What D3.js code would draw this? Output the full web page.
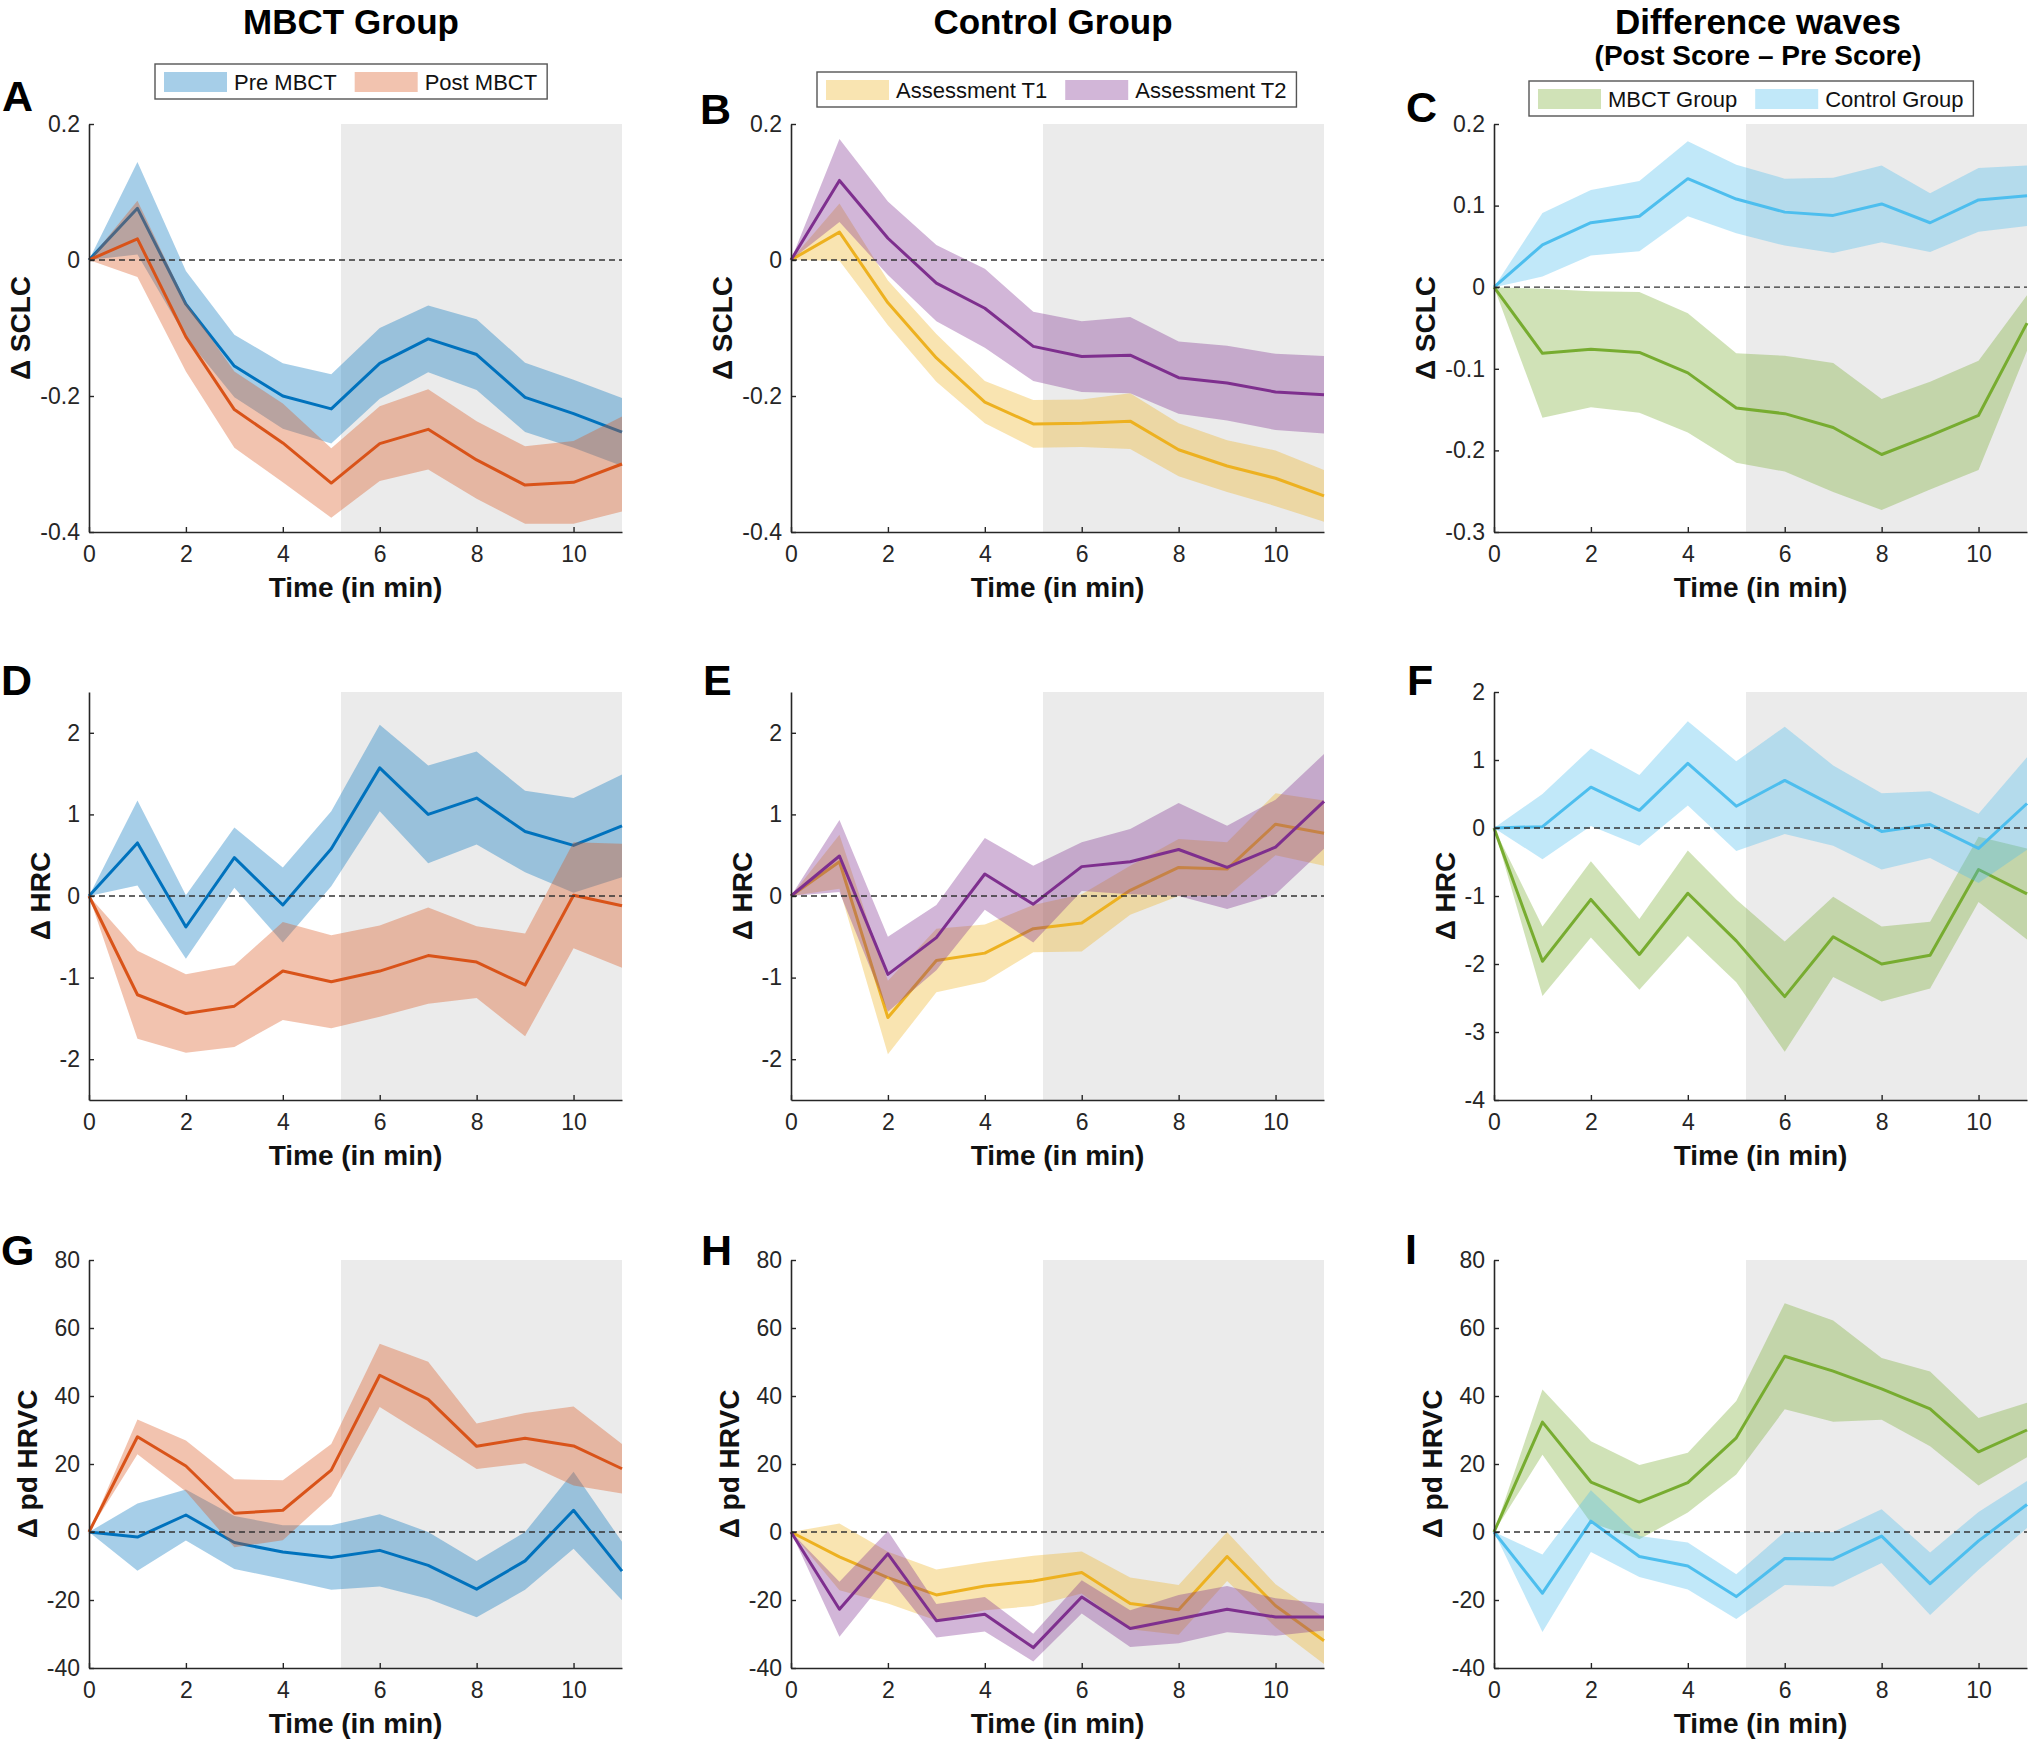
<!DOCTYPE html>
<html>
<head>
<meta charset="utf-8">
<script src="https://cdn.jsdelivr.net/npm/d3@7"></script>
<style>
	html, body { margin: 0; padding: 0; background: #fff; }
	svg { display: block; font-family: 'Liberation Sans', Arial, Helvetica, sans-serif; }
</style>
</head>
<body>
<svg id="chart" width="2030" height="1743"></svg>
<script>
// time axis (minutes)
var timePoints = [0, 1, 2, 3, 4, 5, 6, 7, 8, 9, 10, 11];

// A - SCLC, MBCT group
var sclcPreMean  = [0, 0.076, -0.065, -0.156, -0.200, -0.219, -0.152, -0.116, -0.139, -0.202, -0.226, -0.253];
var sclcPreSem   = [0, 0.068, 0.049, 0.046, 0.048, 0.051, 0.052, 0.049, 0.052, 0.051, 0.050, 0.050];
var sclcPostMean = [0, 0.031, -0.113, -0.220, -0.269, -0.328, -0.270, -0.249, -0.294, -0.331, -0.327, -0.300];
var sclcPostSem  = [0, 0.056, 0.051, 0.056, 0.058, 0.051, 0.055, 0.059, 0.057, 0.057, 0.061, 0.070];

// B - SCLC, control group
var sclcT1Mean = [0, 0.041, -0.063, -0.144, -0.209, -0.241, -0.240, -0.237, -0.279, -0.303, -0.321, -0.347];
var sclcT1Sem  = [0, 0.042, 0.033, 0.035, 0.031, 0.035, 0.035, 0.041, 0.039, 0.038, 0.041, 0.038];
var sclcT2Mean = [0, 0.117, 0.032, -0.034, -0.071, -0.127, -0.142, -0.140, -0.173, -0.181, -0.194, -0.198];
var sclcT2Sem  = [0, 0.061, 0.054, 0.056, 0.058, 0.051, 0.052, 0.056, 0.053, 0.055, 0.056, 0.057];

// C - SCLC, difference waves
var sclcDiffMbctMean = [0, -0.081, -0.076, -0.080, -0.105, -0.148, -0.155, -0.172, -0.205, -0.182, -0.157, -0.044];
var sclcDiffMbctSem  = [0, 0.079, 0.071, 0.074, 0.073, 0.067, 0.071, 0.079, 0.068, 0.066, 0.067, 0.034];
var sclcDiffCtrlMean = [0, 0.052, 0.079, 0.087, 0.133, 0.108, 0.092, 0.088, 0.102, 0.079, 0.107, 0.112];
var sclcDiffCtrlSem  = [0, 0.039, 0.040, 0.043, 0.046, 0.042, 0.041, 0.046, 0.047, 0.036, 0.039, 0.037];

// D - HRC, MBCT group
var hrcPreMean  = [0, 0.65, -0.38, 0.47, -0.11, 0.58, 1.57, 1.00, 1.20, 0.79, 0.62, 0.86];
var hrcPreSem   = [0, 0.52, 0.39, 0.37, 0.46, 0.46, 0.53, 0.60, 0.57, 0.50, 0.58, 0.63];
var hrcPostMean = [0, -1.21, -1.44, -1.35, -0.92, -1.05, -0.92, -0.73, -0.81, -1.09, 0.01, -0.12];
var hrcPostSem  = [0, 0.54, 0.48, 0.50, 0.60, 0.57, 0.56, 0.59, 0.44, 0.63, 0.65, 0.76];

// E - HRC, control group
var hrcT1Mean = [0, 0.42, -1.49, -0.79, -0.70, -0.40, -0.33, 0.07, 0.35, 0.33, 0.88, 0.77];
var hrcT1Sem  = [0, 0.33, 0.45, 0.39, 0.35, 0.29, 0.35, 0.30, 0.35, 0.33, 0.38, 0.40];
var hrcT2Mean = [0, 0.49, -0.96, -0.51, 0.27, -0.10, 0.36, 0.42, 0.57, 0.35, 0.60, 1.16];
var hrcT2Sem  = [0, 0.44, 0.46, 0.40, 0.44, 0.47, 0.30, 0.40, 0.57, 0.51, 0.58, 0.58];

// F - HRC, difference waves
var hrcDiffMbctMean = [0, -1.96, -1.05, -1.86, -0.96, -1.66, -2.48, -1.60, -2.00, -1.87, -0.61, -0.97];
var hrcDiffMbctSem  = [0, 0.51, 0.56, 0.52, 0.63, 0.61, 0.81, 0.59, 0.55, 0.49, 0.48, 0.67];
var hrcDiffCtrlMean = [0, 0.02, 0.60, 0.26, 0.95, 0.32, 0.70, 0.33, -0.05, 0.05, -0.30, 0.36];
var hrcDiffCtrlSem  = [0, 0.48, 0.57, 0.52, 0.62, 0.66, 0.79, 0.59, 0.56, 0.49, 0.51, 0.68];

// G - pd HRVC, MBCT group
var hrvcPreMean  = [0, -1.5, 5.0, -3.1, -5.9, -7.5, -5.4, -9.8, -16.8, -8.5, 6.4, -11.5];
var hrvcPreSem   = [0, 9.9, 7.5, 7.8, 7.9, 9.5, 10.6, 9.8, 8.3, 8.5, 11.3, 8.6];
var hrvcPostMean = [0, 28.0, 19.4, 5.5, 6.4, 18.2, 46.1, 39.0, 25.2, 27.6, 25.3, 18.6];
var hrvcPostSem  = [0, 5.1, 7.5, 10.0, 8.8, 7.7, 9.3, 11.1, 6.7, 7.4, 11.6, 7.3];

// H - pd HRVC, control group
var hrvcT1Mean = [0, -7.3, -13.4, -18.5, -15.9, -14.4, -11.9, -21.0, -22.9, -7.2, -21.7, -32.0];
var hrvcT1Sem  = [0, 9.8, 7.6, 7.5, 7.1, 7.4, 6.2, 7.6, 7.3, 7.2, 6.3, 6.8];
var hrvcT2Mean = [0, -22.7, -6.4, -26.1, -24.2, -34.0, -19.1, -28.4, -25.6, -22.7, -25.0, -25.0];
var hrvcT2Sem  = [0, 8.1, 6.7, 4.9, 5.1, 4.1, 4.9, 5.4, 7.1, 6.8, 5.5, 4.0];

// I - pd HRVC, difference waves
var hrvcDiffMbctMean = [0, 32.3, 14.7, 8.8, 14.5, 27.7, 51.7, 47.3, 42.1, 36.2, 23.6, 30.0];
var hrvcDiffMbctSem  = [0, 9.6, 12.0, 10.9, 8.8, 10.8, 15.6, 14.9, 9.1, 11.0, 9.9, 8.0];
var hrvcDiffCtrlMean = [0, -18.0, 3.2, -7.2, -10.0, -19.0, -7.8, -8.0, -1.2, -15.2, -2.6, 8.1];
var hrvcDiffCtrlSem  = [0, 11.4, 9.1, 6.0, 6.9, 6.6, 7.8, 8.0, 7.9, 9.2, 8.5, 6.9];

// shaded window and tick values
var shadeStart = 5.2;
var xTickValues = [0, 2, 4, 6, 8, 10];
var sclcTicks = [-0.4, -0.2, 0, 0.2];
var sclcDiffTicks = [-0.3, -0.2, -0.1, 0, 0.1, 0.2];
var hrcTicks = [-2, -1, 0, 1, 2];
var hrcDiffTicks = [-4, -3, -2, -1, 0, 1, 2];
var hrvcTicks = [-40, -20, 0, 20, 40, 60, 80];

var columnTitles = ['MBCT Group', 'Control Group', 'Difference waves'];
var columnSubtitle = '(Post Score \u2013 Pre Score)';
var legendLabels = [['Pre MBCT', 'Post MBCT'], ['Assessment T1', 'Assessment T2'], ['MBCT Group', 'Control Group']];

// matlab default line colours
var colors = {
	blue: '#0072BD', orange: '#D95319', yellow: '#EDB120',
	purple: '#7E2F8E', green: '#77AC30', cyan: '#4DBEEE'
};
var bandAlpha = 0.35;

var svg = d3.select('#chart');

var colX = [89, 791, 1494];
var rowY = [124, 692, 1260];
var plotW = 533, plotH = 408;
var axisColor = '#262626';

function series(mean, sem, color) {
	return { mean: mean, sem: sem, color: color };
}

var panels = [
	{ letter: 'A', col: 0, row: 0, label: '\u0394 SCLC', domain: [-0.4, 0.2], ticks: sclcTicks,
		series: [series(sclcPreMean, sclcPreSem, colors.blue), series(sclcPostMean, sclcPostSem, colors.orange)] },
	{ letter: 'B', col: 1, row: 0, label: '\u0394 SCLC', domain: [-0.4, 0.2], ticks: sclcTicks,
		series: [series(sclcT1Mean, sclcT1Sem, colors.yellow), series(sclcT2Mean, sclcT2Sem, colors.purple)] },
	{ letter: 'C', col: 2, row: 0, label: '\u0394 SCLC', domain: [-0.3, 0.2], ticks: sclcDiffTicks,
		series: [series(sclcDiffMbctMean, sclcDiffMbctSem, colors.green), series(sclcDiffCtrlMean, sclcDiffCtrlSem, colors.cyan)] },
	{ letter: 'D', col: 0, row: 1, label: '\u0394 HRC', domain: [-2.5, 2.5], ticks: hrcTicks,
		series: [series(hrcPreMean, hrcPreSem, colors.blue), series(hrcPostMean, hrcPostSem, colors.orange)] },
	{ letter: 'E', col: 1, row: 1, label: '\u0394 HRC', domain: [-2.5, 2.5], ticks: hrcTicks,
		series: [series(hrcT1Mean, hrcT1Sem, colors.yellow), series(hrcT2Mean, hrcT2Sem, colors.purple)] },
	{ letter: 'F', col: 2, row: 1, label: '\u0394 HRC', domain: [-4, 2], ticks: hrcDiffTicks,
		series: [series(hrcDiffMbctMean, hrcDiffMbctSem, colors.green), series(hrcDiffCtrlMean, hrcDiffCtrlSem, colors.cyan)] },
	{ letter: 'G', col: 0, row: 2, label: '\u0394 pd HRVC', domain: [-40, 80], ticks: hrvcTicks,
		series: [series(hrvcPreMean, hrvcPreSem, colors.blue), series(hrvcPostMean, hrvcPostSem, colors.orange)] },
	{ letter: 'H', col: 1, row: 2, label: '\u0394 pd HRVC', domain: [-40, 80], ticks: hrvcTicks,
		series: [series(hrvcT1Mean, hrvcT1Sem, colors.yellow), series(hrvcT2Mean, hrvcT2Sem, colors.purple)] },
	{ letter: 'I', col: 2, row: 2, label: '\u0394 pd HRVC', domain: [-40, 80], ticks: hrvcTicks,
		series: [series(hrvcDiffMbctMean, hrvcDiffMbctSem, colors.green), series(hrvcDiffCtrlMean, hrvcDiffCtrlSem, colors.cyan)] }
];

// letter positions differ a little per panel in the figure
var letterPos = {
	A: [2, 111], B: [700, 124], C: [1406, 122],
	D: [1, 695], E: [703, 695], F: [1407, 695],
	G: [1, 1265], H: [701, 1265], I: [1405, 1264]
};

function tickText(d) {
	return String(+d.toFixed(2));
}

function drawPanel(p) {
	var left = colX[p.col], top = rowY[p.row];
	var g = svg.append('g').attr('transform', 'translate(' + left + ',' + top + ')');

	var x = d3.scaleLinear().domain([0, 11]).range([0, plotW]);
	var y = d3.scaleLinear().domain(p.domain).range([plotH, 0]);

	// grey analysis window
	g.append('rect')
		.attr('x', x(shadeStart))
		.attr('y', 0)
		.attr('width', x(11) - x(shadeStart))
		.attr('height', plotH)
		.attr('fill', '#ebebeb');

	var area = d3.area()
		.x(function(d, i) { return x(timePoints[i]); })
		.y0(function(d) { return y(d[0]); })
		.y1(function(d) { return y(d[1]); });

	var line = d3.line()
		.x(function(d, i) { return x(timePoints[i]); })
		.y(function(d) { return y(d); });

	p.series.forEach(function(s) {
		var band = s.mean.map(function(m, i) { return [m - s.sem[i], m + s.sem[i]]; });
		g.append('path')
			.attr('d', area(band))
			.attr('fill', s.color)
			.attr('fill-opacity', bandAlpha);
		g.append('path')
			.attr('d', line(s.mean))
			.attr('fill', 'none')
			.attr('stroke', s.color)
			.attr('stroke-width', 3)
			.attr('stroke-linejoin', 'round');
	});

	// dashed zero reference
	g.append('line')
		.attr('x1', x(0)).attr('x2', x(11))
		.attr('y1', y(0)).attr('y2', y(0))
		.attr('stroke', '#333')
		.attr('stroke-width', 1.3)
		.attr('stroke-dasharray', '6,4');

	var yAxis = g.append('g')
		.call(d3.axisLeft(y).tickValues(p.ticks).tickFormat(tickText).tickSize(-5).tickSizeOuter(0).tickPadding(9));
	var xAxis = g.append('g')
		.attr('transform', 'translate(0,' + plotH + ')')
		.call(d3.axisBottom(x).tickValues(xTickValues).tickFormat(tickText).tickSize(-5).tickSizeOuter(0).tickPadding(14));

	[yAxis, xAxis].forEach(function(a) {
		a.select('.domain').attr('stroke', axisColor).attr('stroke-width', 1.6);
		a.selectAll('.tick line').attr('stroke', axisColor).attr('stroke-width', 1.4);
		a.selectAll('.tick text')
			.attr('fill', axisColor)
			.style('font-size', '23px')
			.style('font-family', "'Liberation Sans', Arial, sans-serif");
	});

	// y label sits left of the widest tick label
	var maxTick = 0;
	yAxis.selectAll('.tick text').each(function() {
		maxTick = Math.max(maxTick, this.getComputedTextLength());
	});
	var labelX = -9 - maxTick - 10;
	g.append('text')
		.attr('transform', 'translate(' + labelX + ',' + (plotH / 2) + ') rotate(-90)')
		.attr('text-anchor', 'middle')
		.style('font-size', '28px')
		.style('font-weight', 'bold')
		.attr('fill', '#111')
		.text(p.label);

	g.append('text')
		.attr('x', plotW / 2)
		.attr('y', plotH + 65)
		.attr('text-anchor', 'middle')
		.style('font-size', '28px')
		.style('font-weight', 'bold')
		.attr('fill', '#111')
		.text('Time (in min)');

	var lp = letterPos[p.letter];
	svg.append('text')
		.attr('x', lp[0])
		.attr('y', lp[1])
		.style('font-size', '43px')
		.style('font-weight', 'bold')
		.attr('fill', '#000')
		.text(p.letter);
}

function drawLegend(left, top, labels, cols) {
	var g = svg.append('g').attr('transform', 'translate(' + left + ',' + top + ')');
	var box = g.append('rect')
		.attr('height', 35)
		.attr('fill', '#fff')
		.attr('stroke', '#555')
		.attr('stroke-width', 1.4);
	var cursor = 9;
	labels.forEach(function(lab, i) {
		if(i > 0) {
			cursor += 18;
		}
		g.append('rect')
			.attr('x', cursor)
			.attr('y', 8)
			.attr('width', 63)
			.attr('height', 20)
			.attr('fill', cols[i])
			.attr('fill-opacity', bandAlpha);
		cursor += 63 + 7;
		var t = g.append('text')
			.attr('x', cursor)
			.attr('y', 26)
			.style('font-size', '22px')
			.attr('fill', '#111')
			.text(lab);
		cursor += t.node().getComputedTextLength();
	});
	box.attr('width', cursor + 10);
}

panels.forEach(drawPanel);

// column headers
var titleX = [351, 1053, 1758];
columnTitles.forEach(function(t, i) {
	svg.append('text')
		.attr('x', titleX[i])
		.attr('y', 34)
		.attr('text-anchor', 'middle')
		.style('font-size', '35px')
		.style('font-weight', 'bold')
		.attr('fill', '#000')
		.text(t);
});
svg.append('text')
	.attr('x', titleX[2])
	.attr('y', 65)
	.attr('text-anchor', 'middle')
	.style('font-size', '28px')
	.style('font-weight', 'bold')
	.attr('fill', '#000')
	.text(columnSubtitle);

drawLegend(155, 64, legendLabels[0], [colors.blue, colors.orange]);
drawLegend(817, 72, legendLabels[1], [colors.yellow, colors.purple]);
drawLegend(1529, 81, legendLabels[2], [colors.green, colors.cyan]);
</script>
</body>
</html>
